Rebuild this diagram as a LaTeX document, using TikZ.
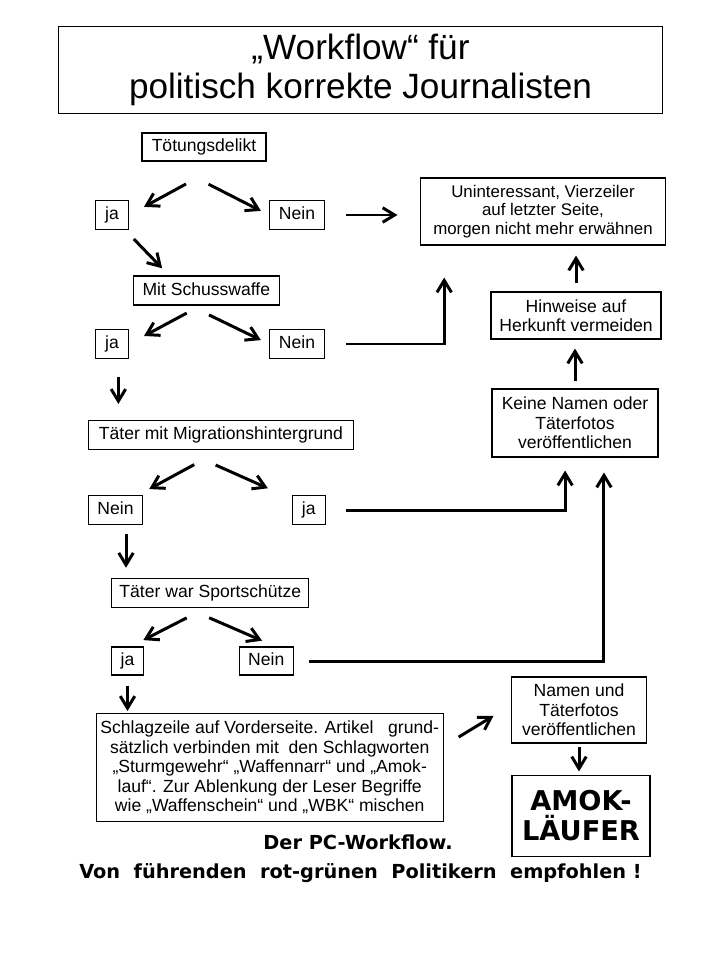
\documentclass[tikz,border=0pt]{standalone}
\usepackage{fontspec}
\setmainfont{Liberation Sans}
\newfontfamily\heavy{DejaVu Sans}
\usetikzlibrary{arrows.meta}
\tikzstyle{box} = [rectangle, draw=black, line width=0.6pt, inner sep=0pt, align=center, font=\fontsize{10}{11}\selectfont]
\tikzstyle{word} = [box, text height=7.4pt, text depth=2.2pt]
\tikzstyle{arr} = [line width=1.7pt, -{Straight Barb[length=2.4mm,width=2.9mm]}]

\begin{document}
\begin{tikzpicture}[x=0.02cm, y=-0.02cm]
\useasboundingbox (0,0) rectangle (720,960);

\node (title) [box, minimum width=12.1cm, minimum height=1.74cm, font=\fontsize{20}{22.2}\selectfont] at (360.5,70) {„Workflow“ für\\politisch korrekte Journalisten};

\node (toet) [word, minimum width=2.48cm, minimum height=0.56cm] at (204,147) {Tötungsdelikt};
\node (ja1) [word, minimum width=0.66cm, minimum height=0.58cm] at (112,215) {ja};
\node (nein1) [word, minimum width=1.1cm, minimum height=0.58cm] at (297,215) {Nein};
\node (mit) [word, minimum width=2.92cm, minimum height=0.58cm] at (206.3,290.5) {Mit Schusswaffe};
\node (ja2) [word, minimum width=0.66cm, minimum height=0.58cm] at (112,344) {ja};
\node (nein2) [word, minimum width=1.1cm, minimum height=0.58cm] at (297,344) {Nein};
\node (mig) [word, minimum width=5.3cm, minimum height=0.58cm] at (221,435) {Täter mit Migrationshintergrund};
\node (nein3) [word, minimum width=1.08cm, minimum height=0.58cm] at (115.5,510.3) {Nein};
\node (ja3) [word, minimum width=0.66cm, minimum height=0.58cm] at (308.7,510.3) {ja};
\node (sport) [word, minimum width=3.94cm, minimum height=0.58cm] at (210.3,592.8) {Täter war Sportschütze};
\node (ja4) [word, minimum width=0.64cm, minimum height=0.56cm] at (127.5,661) {ja};
\node (nein4) [word, minimum width=1.08cm, minimum height=0.56cm] at (266.3,661) {Nein};
\node (schlag) [box, minimum width=6.94cm, minimum height=2.16cm, font=\fontsize{10}{11.1}\selectfont] at (269.7,767.5) {
  Schlagzeile auf Vorderseite. Artikel\ \ \ grund-\\
  sätzlich verbinden mit\ \ den Schlagworten\\
  „Sturmgewehr“ „Waffennarr“ und „Amok-\\
  lauf“. Zur Ablenkung der Leser Begriffe\\
  wie „Waffenschein“ und „WBK“ mischen};

\node (unin) [box, minimum width=4.9cm, minimum height=1.34cm, font=\fontsize{9.6}{10.6}\selectfont] at (543,211.5) {Uninteressant, Vierzeiler\\auf letzter Seite,\\morgen nicht mehr erwähnen};
\node (hinweise) [box, minimum width=3.4cm, minimum height=0.94cm] at (576,315.5) {Hinweise auf\\Herkunft vermeiden};
\node (keine) [box, minimum width=3.32cm, minimum height=1.36cm] at (575,423) {Keine Namen oder\\Täterfotos\\veröffentlichen};
\node (namen) [box, minimum width=2.7cm, minimum height=1.32cm] at (579,710) {Namen und\\Täterfotos\\veröffentlichen};
\node (amok) [box, minimum width=2.76cm, minimum height=1.62cm, font=\heavy\bfseries\fontsize{15.5}{17}\selectfont] at (581,816) {AMOK-\\LÄUFER};

\node (pc1) [anchor=base, font=\heavy\bfseries\fontsize{11}{13}\selectfont] at (358,849) {Der PC-Workflow.};
\node (pc2) [anchor=base, font=\heavy\bfseries\fontsize{11}{13}\selectfont] at (360.5,878) {Von\ \ führenden\ \ rot-grünen\ \ Politikern\ \ empfohlen !};

% Toetungsdelikt
\draw[arr, shorten <=0.94cm, shorten >=0.34cm] (toet.-32) -- (ja1.east);
\draw[arr, shorten <=1.0cm, shorten >=0.18cm] (toet.-160) -- (nein1.west);
\draw[arr, shorten <=0.42cm, shorten >=0.45cm] (nein1.east) -- (nein1.east -| unin.west);
\draw[arr, shorten <=0.25cm, shorten >=0.2cm] (ja1.-49) -- (mit.158);

% Schusswaffe
\draw[arr, shorten <=0.32cm, shorten >=0.34cm] (mit.-110) -- (ja2.east);
\draw[arr, shorten <=0.43cm, shorten >=0.18cm] (mit.-138) -- (nein2.west);
\draw[arr, shorten <=0.42cm, shorten >=0.64cm] (nein2.east) -| (unin.-161.5);
\draw[arr, shorten <=0.35cm, shorten >=0.32cm] (ja2.-67.5) -- (ja2.-67.5 |- mig.north);

% Migrationshintergrund
\draw[arr, shorten <=0.61cm, shorten >=0.26cm] (mig.south) -- (nein3.34);
\draw[arr, shorten <=0.74cm, shorten >=0.52cm] (mig.-159) -- (ja3.146);
\draw[arr, shorten <=0.41cm, shorten >=0.26cm] (ja3.east) -| (keine.-106.4);
\draw[arr, shorten <=0.17cm, shorten >=0.2cm] (nein3.-55) -- (nein3.-55 |- sport.north);

% Sportschuetze
\draw[arr, shorten <=0.44cm, shorten >=0.28cm] (sport.-105) -- (ja4.77);
\draw[arr, shorten <=0.5cm, shorten >=0.29cm] (sport.-148) -- (nein4.58);
\draw[arr, shorten <=0.3cm, shorten >=0.3cm] (nein4.east) -| (keine.-50.5);
\draw[arr, shorten <=0.2cm, shorten >=0.04cm] (ja4.south) -- (ja4.south |- schlag.north);

% rechte Spalte
\draw[arr, shorten <=0.35cm, shorten >=0.41cm] (schlag.7) -- (namen.176);
\draw[arr, shorten <=0.07cm, shorten >=0.07cm] (namen.south) -- (namen.south |- amok.north);
\draw[arr, shorten <=0.14cm, shorten >=0.18cm] (keine.north) -- (keine.north |- hinweise.south);
\draw[arr, shorten <=0.17cm, shorten >=0.2cm] (hinweise.north) -- (hinweise.north |- unin.south);

\end{tikzpicture}
\end{document}
